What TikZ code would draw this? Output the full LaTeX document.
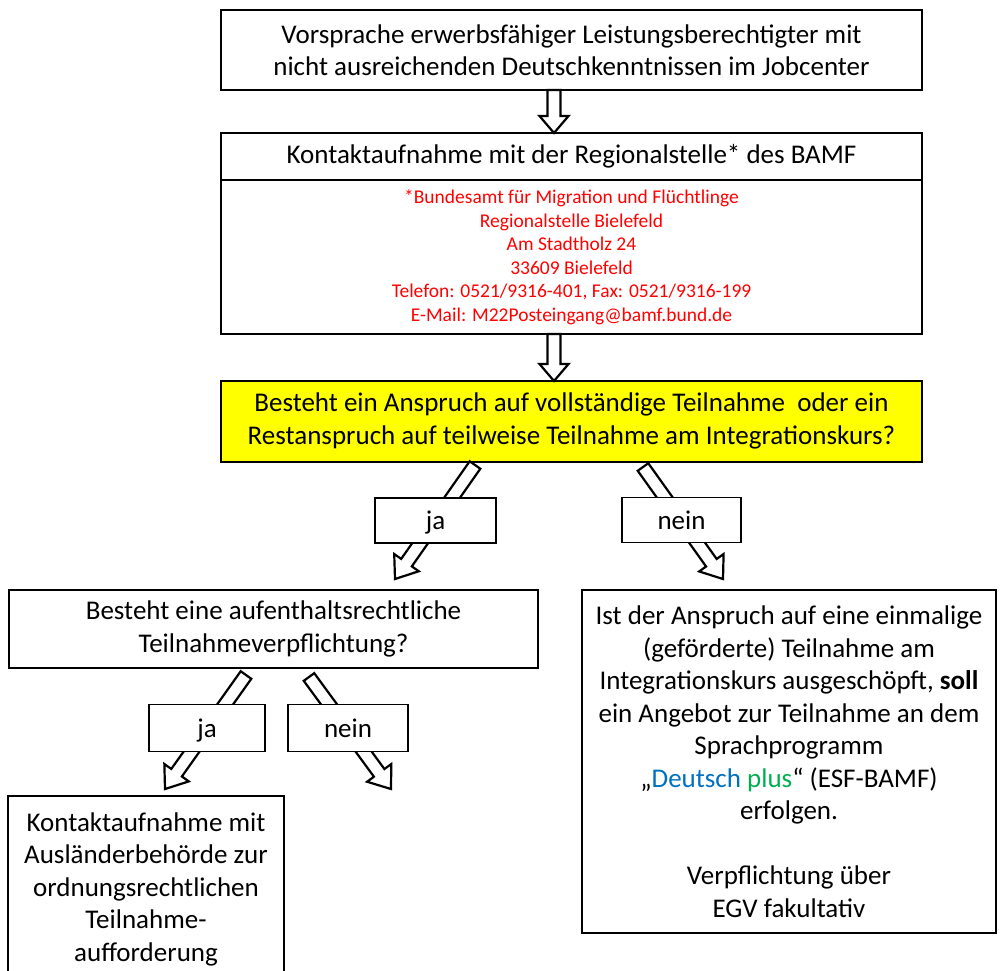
\documentclass[tikz,border=0pt]{standalone}
\usepackage{fontspec}
\setmainfont{Carlito}
\usetikzlibrary{calc}
\definecolor{myred}{RGB}{255,0,0}
\definecolor{myblue}{RGB}{0,112,192}
\definecolor{mygreen}{RGB}{0,176,80}
\definecolor{myyellow}{RGB}{255,255,0}
\newcommand\hollowarrow[5]{% start, end, shaft half width, head half width, head length
  \coordinate (hb) at ($(#2)!#5!(#1)$);
  \draw[blockarrow] ($(#1)!#3!90:(#2)$) -- ($(hb)!#3!-90:(#1)$) -- ($(hb)!#4!-90:(#1)$) -- (#2)
     -- ($(hb)!#4!90:(#1)$) -- ($(hb)!#3!90:(#1)$) -- ($(#1)!#3!-90:(#2)$) -- cycle;
}
\tikzset{
  box/.style={draw, line width=2pt, fill=white, align=center, inner sep=0pt,
    font=\fontsize{27}{32.5}\selectfont},
  redtext/.style={text=myred, font=\fontsize{19.5}{23.5}\selectfont},
  blockarrow/.style={draw, line width=2.2pt, fill=white, line join=miter},
  labelbox/.style={draw, line width=1.8pt, fill=white, inner sep=0pt,
    text height=20pt, text depth=2pt, font=\fontsize{27}{32}\selectfont},
}
\begin{document}
\begin{tikzpicture}[x=1pt,y=-1pt]
\useasboundingbox (0,0) rectangle (1000,970);

% boxes
\node[box, minimum width=701pt, minimum height=80pt] (top) at (571.5,50)
  {Vorsprache erwerbsfähiger Leistungsberechtigter mit\\nicht ausreichenden Deutschkenntnissen im Jobcenter};
\node[box, minimum width=701pt, minimum height=47pt] (kontakt) at (571.5,156.5)
  {Kontaktaufnahme mit der Regionalstelle* des BAMF};
\node[box, redtext, minimum width=701pt, minimum height=154pt] (adresse) at (571.5,257)
  {\raisebox{-4pt}{\parbox{680pt}{\centering *Bundesamt für Migration und Flüchtlinge\\Regionalstelle Bielefeld\\Am Stadtholz 24\\33609 Bielefeld\\Telefon: 0521/9316-401, Fax: 0521/9316-199\\E-Mail: M22Posteingang@bamf.bund.de}}};
\node[box, fill=myyellow, minimum width=701pt, minimum height=81pt] (frage) at (571.5,421)
  {Besteht ein Anspruch auf vollständige Teilnahme\ \ oder ein\\Restanspruch auf teilweise Teilnahme am Integrationskurs?};
\node[box, minimum width=529pt, minimum height=78pt] (pflicht) at (273.5,629)
  {Besteht eine aufenthaltsrechtliche\\Teilnahmeverpflichtung?};
\node[box, minimum width=414pt, minimum height=343pt] (angebot) at (789,761.5)
  {Ist der Anspruch auf eine einmalige\\(geförderte) Teilnahme am\\Integrationskurs ausgeschöpft, \textbf{soll}\\ein Angebot zur Teilnahme an dem\\Sprachprogramm\\„\textcolor{myblue}{Deutsch} \textcolor{mygreen}{plus}“ (ESF-BAMF)\\erfolgen.\\[32.5pt]Verpflichtung über\\EGV fakultativ};
\node[box, draw=none, fill=none, minimum width=274pt, minimum height=184pt] (abh) at (146,889)
  {Kontaktaufnahme mit\\Ausländerbehörde zur\\ordnungsrechtlichen\\Teilnahme-\\aufforderung};
\draw[line width=2pt] (abh.south west) -- (abh.north west) -- (abh.north east) -- (abh.south east);

% connector end points
\coordinate (v1s) at (554,90);   \coordinate (v1e) at (554,133);
\coordinate (v2s) at (554,334);  \coordinate (v2e) at (554,381);
\coordinate (j1s) at (475,465);  \coordinate (j1e) at (395,579);
\coordinate (n1s) at (643,467);  \coordinate (n1e) at (723,579);
\coordinate (j2s) at (246,675);  \coordinate (j2e) at (165,789);
\coordinate (n2s) at (309,677);  \coordinate (n2e) at (391,789);

% block arrows
\hollowarrow{v1s}{v1e}{6.5pt}{14.5pt}{17pt}
\hollowarrow{v2s}{v2e}{6.5pt}{14.5pt}{17pt}
\hollowarrow{j1s}{j1e}{6.5pt}{15pt}{20pt}
\hollowarrow{n1s}{n1e}{6.5pt}{15pt}{20pt}
\hollowarrow{j2s}{j2e}{6.5pt}{15pt}{20pt}
\hollowarrow{n2s}{n2e}{6.5pt}{15pt}{20pt}

% labels on arrows
\node[labelbox, minimum width=121pt, minimum height=45pt] (ja1) at (435.5,520.5) {ja};
\node[labelbox, minimum width=119pt, minimum height=45pt] (nein1) at (681.5,520) {nein};
\node[labelbox, minimum width=116pt, minimum height=47pt] (ja2) at (207,728) {ja};
\node[labelbox, minimum width=120pt, minimum height=47pt] (nein2) at (348,728) {nein};
\end{tikzpicture}
\end{document}
